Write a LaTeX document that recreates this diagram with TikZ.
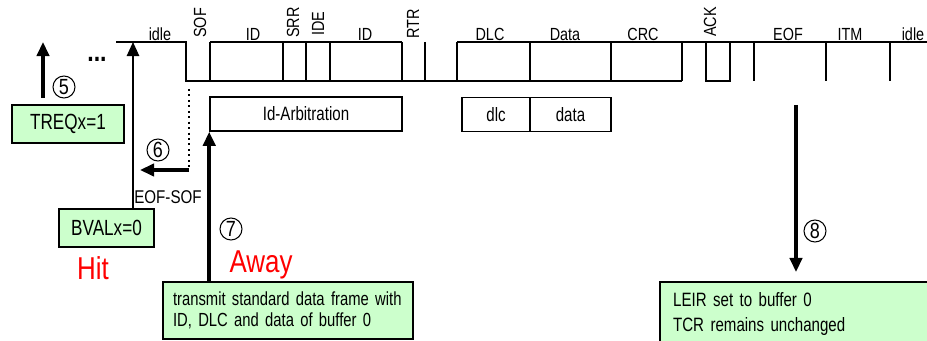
\documentclass[tikz,border=0pt]{standalone}
\usepackage{fontspec}
\setmainfont[FakeStretch=0.78]{Liberation Sans}
\newfontfamily\sigfont[FakeStretch=0.82]{Liberation Sans}
\usetikzlibrary{arrows.meta}
\pgfdeclarelayer{edgelayer}
\pgfdeclarelayer{nodelayer}
\pgfsetlayers{edgelayer,nodelayer,main}
\definecolor{notegreen}{RGB}{204,255,204}
\tikzset{font=\fontsize{11}{12}\selectfont}
\tikzstyle{none}=[inner sep=0pt]
\tikzstyle{sig}=[inner sep=0pt,anchor=base,font=\sigfont\fontsize{10}{10}\selectfont]
\tikzstyle{sigv}=[sig,rotate=90,anchor=west]
\tikzstyle{wave}=[line width=1.1pt]
\tikzstyle{stick}=[line width=1.6pt]
\tikzstyle{field}=[draw,line width=0.9pt,minimum height=0.68cm,inner sep=0pt]
\tikzstyle{note}=[draw,fill=notegreen,line width=1.3pt,inner sep=0pt]
\tikzstyle{num}=[circle,draw,line width=0.6pt,inner sep=0pt,minimum size=0.44cm,font=\sigfont\fontsize{12.5}{12}\selectfont]
\tikzstyle{hit}=[inner sep=0pt,text=red,font=\sigfont\fontsize{18}{18}\selectfont]
\tikzstyle{arr}=[-{Triangle[length=8pt,width=7pt]},line width=1.8pt]
\tikzstyle{thinarr}=[-{Triangle[length=8pt,width=7pt]},line width=1.1pt]

\begin{document}
\begin{tikzpicture}[x=0.02cm,y=-0.02cm]
	\useasboundingbox (0,0) rectangle (927,341);
	\begin{pgfonlayer}{nodelayer}
		% frame fields
		\node [style=sig] (l0) at (160,41) {idle};
		\node [style=sigv] (l1) at (200,38) {SOF};
		\node [style=sig] (l2) at (253,41) {ID};
		\node [style=sigv] (l3) at (293,38) {SRR};
		\node [style=sigv] (l4) at (318,36) {IDE};
		\node [style=sig] (l5) at (365,41) {ID};
		\node [style=sigv] (l6) at (413,39) {RTR};
		\node [style=sig] (l7) at (490,41) {DLC};
		\node [style=sig] (l8) at (565,41) {Data};
		\node [style=sig] (l9) at (643,41) {CRC};
		\node [style=sigv] (l10) at (710,37) {ACK};
		\node [style=sig] (l11) at (788,41) {EOF};
		\node [style=sig] (l12) at (850,41) {ITM};
		\node [style=sig] (l13) at (913,41) {idle};
		\node [style=field,minimum width=3.84cm] (idarb) at (306,114) {Id-Arbitration};
		\node [style=field,minimum width=1.36cm] (dlc) at (496,114.5) {dlc};
		\node [style=field,minimum width=1.62cm] (data) at (570.5,114.5) {data};
		% notes
		\node [style=note,minimum width=2.24cm,minimum height=0.76cm,font=\fontsize{12.5}{13}\selectfont] (treq) at (68,124) {TREQx=1};
		\node [style=note,minimum width=1.9cm,minimum height=0.76cm,font=\fontsize{12.5}{13}\selectfont] (bval) at (106.5,228) {BVALx=0};
		\node [style=note,minimum width=5cm,minimum height=1.14cm,inner xsep=0.2cm,text width=4.6cm,align=left,font=\fontsize{10.8}{12}\selectfont] (tx) at (288,310.5) {transmit standard data frame with\\ID, DLC and data of buffer 0};
		\node [style=note,anchor=north west,minimum width=7cm,minimum height=1.28cm,inner xsep=0.26cm,text width=6.48cm,align=left,font=\fontsize{11}{14}\selectfont] (leir) at (659,281) {LEIR set to buffer 0\\TCR remains unchanged};
		% labels
		\node [style=sig,font=\sigfont\bfseries\fontsize{16}{16}\selectfont] (dots) at (97,62) {...};
		\node [style=num] (n5) at (64,87) {5};
		\node [style=num] (n6) at (158,150) {6};
		\node [style=num] (n7) at (231,229) {7};
		\node [style=num] (n8) at (815,231) {8};
		\node [style=sig,anchor=center,font=\sigfont\fontsize{10.5}{10}\selectfont] (eofsof) at (168,197) {EOF-SOF};
		\node [style=hit] (hit) at (93,268) {Hit};
		\node [style=hit] (away) at (261,265) {Away};
	\end{pgfonlayer}
	\begin{pgfonlayer}{edgelayer}
		\coordinate (a0) at (43,98);
		\coordinate (a1) at (43,42);
		\coordinate (b1) at (133,42);
		\coordinate (d1) at (189,89);
		\coordinate (d2) at (189,170);
		\coordinate (d3) at (140,170);
		\coordinate (e1) at (796,105);
		\coordinate (e2) at (796,272);
		% bus level
		\draw [style=stick] (116,42) to (139,42);
		\draw [style=wave] (139,42) -- (186,42) -- (186,81) -- (682,81);
		\draw [style=wave] (210,42) to (402,42);
		\draw [style=wave] (457,42) to (927,42);
		\foreach \x in {210,283,306,330,402,425,457,530,611,682,754,826,890}
			\draw [style=stick] (\x,42) to (\x,81);
		\draw [style=stick] (706,42) -- (706,81) -- (730,81) -- (730,42);
		% events
		\draw [style=arr] (a0) to (a1);
		\draw [style=thinarr] (b1 |- bval.north) to (b1);
		\draw [line width=1.1pt,dotted] (d1) to (d2);
		\draw [style=arr] (d2) to (d3);
		\draw [style=arr,line width=2.2pt] (tx.north -| idarb.south west) to (idarb.south west);
		\draw [style=arr,line width=2.2pt] (e1) to (e2);
	\end{pgfonlayer}
\end{tikzpicture}
\end{document}
